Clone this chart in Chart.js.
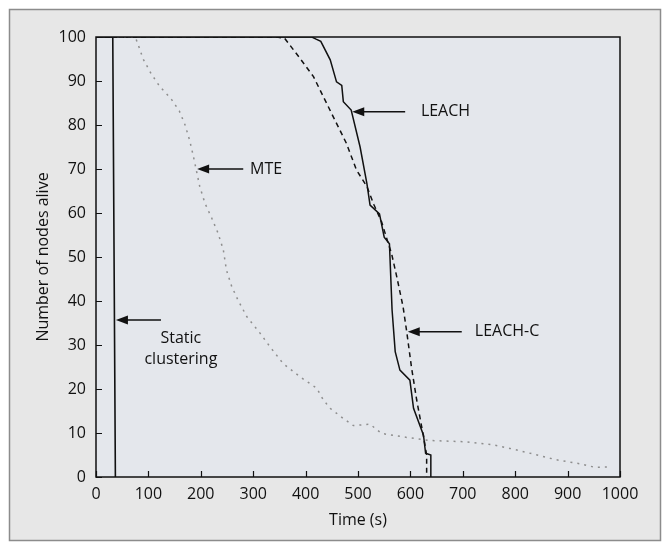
<!DOCTYPE html>
<html>
<head>
<meta charset="utf-8">
<script src="https://cdn.jsdelivr.net/npm/chart.js@4/dist/chart.umd.min.js"></script>
<style>
  body { margin: 0; background: #fff; }
  #wrap { width: 667px; height: 550px; }
</style>
</head>
<body>
<div id="wrap"><canvas id="lifeChart" width="667" height="550"></canvas></div>
<script>
// Time (s) and number of nodes alive
const staticT = [0, 32, 37];
const staticN = [100, 100, 0];

const leachT = [0, 412, 420, 429, 447, 459, 469, 472, 487, 504, 517, 523, 541, 550, 560, 565, 571, 580, 599, 606, 625, 629, 639, 639];
const leachN = [100, 100, 99.5, 99, 94.8, 89.8, 89, 85.3, 83.4, 75, 66.7, 61.8, 59.8, 54.5, 53, 38, 28.5, 24.3, 22, 15.6, 9.5, 5.4, 5, 0];

const leachCT = [0, 345, 360, 389, 415, 434, 456, 478, 497, 517, 530, 545, 558, 564, 574, 586, 593, 602, 612, 625, 631, 631];
const leachCN = [100, 100, 99.7, 95.2, 91, 86.4, 81.1, 75.8, 69.8, 66, 62, 58, 53, 50.8, 45.5, 38.7, 33, 25, 17.5, 9.2, 5, 0];

const mteT = [0, 75, 80, 90, 105, 122, 143, 159, 170, 179, 186, 191, 198, 208, 221, 233, 243, 249, 259, 271, 288, 313, 332, 357, 389, 421, 434, 447, 472, 491, 523, 545, 593, 637, 707, 758, 790, 835, 879, 924, 952, 984];
const mteN = [100, 100, 98.4, 95, 91.7, 88.7, 86, 83.2, 80, 76.4, 72.8, 70, 66, 62.2, 58.8, 55.4, 51.6, 47, 43.3, 40.2, 36.4, 32.7, 29.6, 25.8, 22.8, 20.2, 17.5, 15.6, 13.3, 11.7, 12, 9.9, 9, 8.3, 8, 7.3, 6.5, 5.2, 3.9, 3, 2.2, 2.3];

// arrow labels: tip (t, n), tail t, text position
const labels = [
  { text: ['LEACH'], tip: [489, 83], tail: 590, at: [620, 83], align: 'left' },
  { text: ['MTE'], tip: [193, 70], tail: 281, at: [294, 70], align: 'left' },
  { text: ['LEACH-C'], tip: [595, 33], tail: 698, at: [723, 33], align: 'left' },
  { text: ['Static', 'clustering'], tip: [38, 35.7], tail: 124, at: [162, 31.6], align: 'center' }
];

const FONT = '"Open Sans", sans-serif';

function pts(xs, ys) {
  return xs.map((x, i) => ({ x: x, y: ys[i] }));
}

const framePlugin = {
  id: 'frame',
  beforeDraw(chart) {
    const ctx = chart.ctx;
    const a = chart.chartArea;
    ctx.save();
    ctx.fillStyle = '#ffffff';
    ctx.fillRect(0, 0, chart.width, chart.height);
    ctx.fillStyle = '#e7e7e7';
    ctx.fillRect(9, 9, 652, 532);
    ctx.strokeStyle = '#8c8c8c';
    ctx.lineWidth = 1.5;
    ctx.strokeRect(9.5, 9.5, 651, 531);
    ctx.fillStyle = '#e4e7ec';
    ctx.fillRect(a.left, a.top, a.right - a.left, a.bottom - a.top);
    ctx.restore();
  },
  afterDatasetsDraw(chart) {
    const ctx = chart.ctx;
    const a = chart.chartArea;
    const xs = chart.scales.x, ys = chart.scales.y;
    ctx.save();
    ctx.strokeStyle = '#111';
    ctx.lineWidth = 1.5;
    ctx.strokeRect(a.left, a.top, a.right - a.left, a.bottom - a.top);
    // inward ticks
    ctx.lineWidth = 1.2;
    ctx.beginPath();
    xs.ticks.forEach(t => {
      const px = Math.round(xs.getPixelForValue(t.value)) + 0.5;
      ctx.moveTo(px, a.bottom);
      ctx.lineTo(px, a.bottom - 6);
    });
    ys.ticks.forEach(t => {
      const py = Math.round(ys.getPixelForValue(t.value)) + 0.5;
      ctx.moveTo(a.left, py);
      ctx.lineTo(a.left + 6, py);
    });
    ctx.stroke();

    // arrows and their labels
    ctx.fillStyle = '#111';
    ctx.font = '16px ' + FONT;
    ctx.textBaseline = 'middle';
    labels.forEach(l => {
      const tx = xs.getPixelForValue(l.tip[0]);
      const ty = ys.getPixelForValue(l.tip[1]);
      const ex = xs.getPixelForValue(l.tail);
      ctx.lineWidth = 1.5;
      ctx.beginPath();
      ctx.moveTo(tx + 8, ty);
      ctx.lineTo(ex, ty);
      ctx.stroke();
      ctx.beginPath();
      ctx.moveTo(tx, ty);
      ctx.lineTo(tx + 12, ty - 4.5);
      ctx.lineTo(tx + 12, ty + 4.5);
      ctx.closePath();
      ctx.fill();
      ctx.textAlign = l.align;
      const lx = xs.getPixelForValue(l.at[0]);
      const ly = ys.getPixelForValue(l.at[1]);
      l.text.forEach((s, i) => ctx.fillText(s, lx, ly + i * 21));
    });
    ctx.restore();
  }
};

const config = {
  type: 'line',
  data: {
    datasets: [
      { label: 'Static clustering', data: pts(staticT, staticN), borderColor: '#111', borderWidth: 1.6 },
      { label: 'MTE', data: pts(mteT, mteN), borderColor: '#8e8e8e', borderWidth: 1.5, borderDash: [2, 5] },
      { label: 'LEACH-C', data: pts(leachCT, leachCN), borderColor: '#111', borderWidth: 1.5, borderDash: [5, 4] },
      { label: 'LEACH', data: pts(leachT, leachN), borderColor: '#111', borderWidth: 1.5 }
    ]
  },
  options: {
    responsive: false,
    animation: false,
    layout: { padding: { top: 37, right: 47, left: 0, bottom: 0 } },
    elements: { point: { radius: 0 }, line: { tension: 0 } },
    plugins: { legend: { display: false }, tooltip: { enabled: false } },
    scales: {
      x: {
        type: 'linear',
        min: 0, max: 1000,
        grid: { display: false, drawTicks: false },
        border: { display: false },
        ticks: {
          stepSize: 100, padding: 8, color: '#111', font: { family: FONT, size: 16 },
          callback: v => String(v)
        },
        title: { display: true, text: 'Time (s)', color: '#111', font: { family: FONT, size: 16 }, padding: { top: 0, bottom: 20 } },
        afterFit(s) { s.height = 73; }
      },
      y: {
        min: 0, max: 100,
        grid: { display: false, drawTicks: false },
        border: { display: false },
        ticks: { stepSize: 10, padding: 10, color: '#111', font: { family: FONT, size: 16 } },
        title: { display: true, text: 'Number of nodes alive', color: '#111', font: { family: FONT, size: 16 }, padding: { top: 34, bottom: 0 } },
        afterFit(s) { s.width = 96; }
      }
    }
  },
  plugins: [framePlugin]
};

document.addEventListener('DOMContentLoaded', function () {
  new Chart(document.getElementById('lifeChart'), config);
});
</script>
</body>
</html>
